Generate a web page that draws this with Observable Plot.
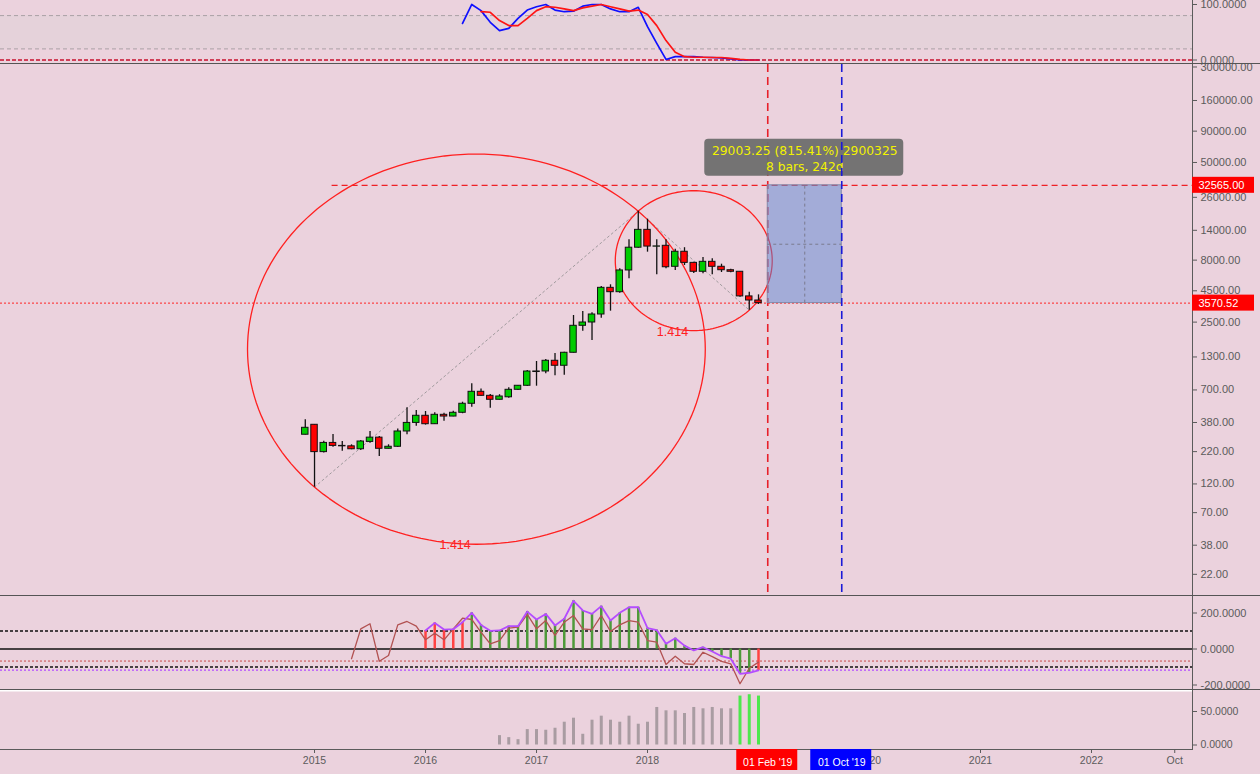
<!DOCTYPE html>
<html>
<head>
<meta charset="utf-8">
<script src="https://cdn.jsdelivr.net/npm/d3@7"></script>
<script src="https://cdn.jsdelivr.net/npm/@observablehq/plot@0.6"></script>
<style>
  html, body { margin: 0; padding: 0; background: #ebd2dd; overflow: hidden; }
  #chart { width: 1260px; height: 774px; position: relative; }
  .sep { border-top: 1px solid #555; }
  #chart svg { display: block; }
</style>
</head>
<body>
<div id="chart">
  <div id="p1"></div>
  <div id="p2" class="sep"></div>
  <div id="p3" class="sep"></div>
  <div id="p4" class="sep"></div>
</div>
<script>
// ---------------- DATA ----------------
const candleMonths = ["2014-12",
  "2015-01","2015-02","2015-03","2015-04","2015-05","2015-06","2015-07","2015-08","2015-09","2015-10","2015-11","2015-12",
  "2016-01","2016-02","2016-03","2016-04","2016-05","2016-06","2016-07","2016-08","2016-09","2016-10","2016-11","2016-12",
  "2017-01","2017-02","2017-03","2017-04","2017-05","2017-06","2017-07","2017-08","2017-09","2017-10","2017-11","2017-12",
  "2018-01","2018-02","2018-03","2018-04","2018-05","2018-06","2018-07","2018-08","2018-09","2018-10","2018-11","2018-12",
  "2019-01"];
const candleOpen  = [302,364,218,259,245,243,230,264,286,232,241,321,377,431,368,439,425,456,540,676,627,582,610,702,757,980,990,1210,1102,1406,2333,2482,2884,4757,4383,6590,10100,14120,10300,10470,7060,9360,7600,6430,7750,7060,6620,6430,4050,3750];
const candleHigh  = [400,364,267,303,266,250,271,321,292,250,337,501,475,467,456,453,470,556,785,714,643,640,729,760,1008,1194,1240,1387,1420,2830,3048,2979,4873,5035,6800,11720,20040,17250,11720,11720,9820,10100,7700,8400,8200,7410,6750,6430,4380,4170];
const candleLow   = [300,113,214,239,222,228,225,258,201,231,238,302,355,362,366,389,423,448,507,622,497,580,600,692,747,751,948,912,922,1400,2110,1770,2690,3070,4300,5630,10000,9290,6080,6790,6590,7230,6230,6190,6080,6340,6310,3990,3130,3480];
const candleClose = [344,218,259,245,243,230,266,286,232,241,321,377,431,368,439,425,456,540,676,627,582,619,702,757,989,990,1210,1102,1406,2333,2482,2884,4757,4383,6590,10100,14120,10320,10350,7000,9360,7600,6430,7750,7060,6620,6430,4050,3750,3570.52];

// Stochastic RSI (top pane)
const stochKFrom = "2016-05";
const stochK = [66,100,89,68,53,57,75,90,96,100,90,87,88,97,100,100,92,87,87,95,60,30,1,6,6,6,5,4.5,3.6,2,0,0,0];
const stochDFrom = "2016-07";
const stochD = [87,86,71,62,62,75,89,96,95,92,89,94,97,100,96,92,88,90,82,62,35,14,6,5,5,4.5,4.5,3,1,0,0];
const stochBands = [20, 80];

// CCI pane
const cciFrom = "2015-05";
const cciSlow = [-54,112,140,-68,-36,134,153,127,51,88,51,112,171,164,93,29,47,116,121,192,112,158,75,149,186,112,107,186,97,134,158,149,47,38,-86,-40,-82,-86,-18,-42,-69,-82,-193,-107,-73];
const cciFastFrom = "2016-01";
const cciFast = [103,145,108,110,149,201,134,101,103,127,127,208,164,195,131,168,268,214,195,238,158,201,232,232,116,105,29,60,19,-8,10,-14,-40,-54,-138,-132,-119];
const cciSide = ["bear","bear","bear","bear","bear",
  "bull","bull","bull","bull","bull","bull","bull","bull","bull","bull","bull","bull","bull","bull","bull","bull",
  "bull","bull","bull","bull","bull","bull","bull","bull","bull","bull","bull","bull","bull","bull","bull","bear"];
const cciLevels = [100, -100];
const cciSignalLevel = -67;
const cciFloorLevel = -117;

// Bottom histogram pane
const volFrom = "2016-09";
const volValues = [14,11,8,23,23,22,25,34,40,16,37,43,37,34,43,31,34,56,51,51,47,56,54,56,54,54,73,75,73];
const volKind = ["base","base","base","base","base","base","base","base","base","base","base","base","base","base","base","base","base","base","base","base","base","base","base","base","base","base","signal","signal","signal"];

// Axis ticks
const priceTicks = [300000,160000,90000,50000,26000,14000,8000,4500,2500,1300,700,380,220,120,70,38,22];
const xTickMonths = ["2015-01","2016-01","2017-01","2018-01","2019-01","2020-01","2021-01","2022-01","2022-10"];
const xTickLabels = ["2015","2016","2017","2018","2019","2020","2021","2022","Oct"];

// Drawings
const fibLevel = 1.414;
const fibs = [
  {from: ["2015-01","low"], to: ["2017-12","high"]},
  {from: ["2017-12","high"], to: ["2018-12","low"]}
];
const resistance = 32565.00;
const resistanceFromIndex = 1.9;
const measureFrom = "2019-02", measureTo = "2019-10";
const measureLow = 3570.52, measureHigh = 32565.00;
const measureText = ["29003.25 (815.41%) 2900325", "8 bars, 242d"];
const dateTags = [{month: "2019-02", text: "01 Feb '19"}, {month: "2019-10", text: "01 Oct '19"}];
const visibleMonths = [-33.95, 94.92];   // visible bar window, months since Jan 2015
const visiblePrice = [14.785, 314400];   // visible price window (log axis)

// ---------------- BUILD ----------------
const L = Math.log10;
const mIndex = s => { const [y, mo] = s.split("-").map(Number); return (y - 2015) * 12 + (mo - 1); };
const candles = candleMonths.map((s, i) => ({m: mIndex(s), open: candleOpen[i], high: candleHigh[i], low: candleLow[i], close: candleClose[i]}));
const series = (from, vals, extra) => vals.map((v, i) => ({m: mIndex(from) + i, v, k: extra ? extra[i] : null}));
const K = series(stochKFrom, stochK), D = series(stochDFrom, stochD);
const cciS = series(cciFrom, cciSlow), cciF = series(cciFastFrom, cciFast, cciSide);
const vol = series(volFrom, volValues, volKind);
const [X0, X1] = visibleMonths;
const lastClose = candleClose[candleClose.length - 1];

const getPt = ([month, field]) => { const c = candles.find(d => d.m === mIndex(month)); return {m: c.m, lp: L(c[field])}; };
const ellipses = [], diagonals = [], fibLabels = [];
fibs.forEach((f, id) => {
  const a = getPt(f.from), b = getPt(f.to);
  const cm = (a.m + b.m) / 2, cl = (a.lp + b.lp) / 2;
  const rx = fibLevel * Math.abs(b.m - a.m) / 2, ry = fibLevel * Math.abs(b.lp - a.lp) / 2;
  d3.range(0, 361, 2).forEach(t => {
    const r = t * Math.PI / 180;
    ellipses.push({id, m: cm + rx * Math.cos(r), lp: cl + ry * Math.sin(r)});
  });
  diagonals.push({id, m: a.m, lp: a.lp}, {id, m: b.m, lp: b.lp});
  fibLabels.push({m: cm - 2.3, lp: cl - ry, t: fibLevel.toFixed(3)});
});

const baseStyle = {background: "transparent", fontFamily: "'Liberation Sans', Arial, sans-serif", fontSize: "11px", color: "#5b5b5b", overflow: "hidden"};
const base = {width: 1260, marginLeft: 0, marginRight: 68, marginTop: 0, marginBottom: 0};
const xs = {type: "linear", domain: visibleMonths, axis: null};
const yAxis = {axis: "right", tickSize: 4, tickPadding: 4, line: true, label: null};

// Pane 1: Stoch RSI
const p1 = Plot.plot({...base, height: 63, style: baseStyle, x: xs,
  y: {...yAxis, domain: [-6.3, 107.2], ticks: [0, 100], tickFormat: d => d.toFixed(4)},
  marks: [
    Plot.rect([0], {x1: X0, x2: X1, y1: stochBands[0], y2: stochBands[1], fill: "#e5d2da"}),
    Plot.ruleY(stochBands, {x1: X0, x2: X1, stroke: "#a9a1a5", strokeDasharray: "4,3"}),
    Plot.ruleY([0], {x1: X0, x2: X1, stroke: "#c8102e", strokeWidth: 1.6, strokeDasharray: "4,2"}),
    Plot.line(K, {x: "m", y: "v", stroke: "#1010ff", strokeWidth: 1.7}),
    Plot.line(D, {x: "m", y: "v", stroke: "#ff1414", strokeWidth: 1.7})
  ]});

// Pane 2: price (log axis drawn as a linear scale of log10 price)
const mS = mIndex(measureFrom), mE = mIndex(measureTo), mMid = (mS + mE) / 2;
const lMid = (L(measureLow) + L(measureHigh)) / 2;
const candleBody = {x1: d => d.m - 0.35, x2: d => d.m + 0.35, y1: d => L(d.open), y2: d => L(d.close), stroke: "#111", strokeWidth: 1};
const p2 = Plot.plot({...base, height: 531, style: baseStyle, x: xs,
  y: {...yAxis, type: "linear", domain: visiblePrice.map(L), ticks: priceTicks.map(L), tickFormat: d => Math.pow(10, d).toFixed(2)},
  marks: [
    Plot.ruleY([L(lastClose)], {x1: X0, x2: X1, stroke: "#ff2222", strokeWidth: 1, strokeDasharray: "2,2"}),
    Plot.ruleY([L(resistance)], {x1: resistanceFromIndex, x2: X1, stroke: "#ee2026", strokeWidth: 1.3, strokeDasharray: "6,4"}),
    Plot.line(diagonals, {x: "m", y: "lp", z: "id", stroke: "#a09a9d", strokeWidth: 1, strokeDasharray: "2,3"}),
    Plot.line(ellipses, {x: "m", y: "lp", z: "id", stroke: "#ff2020", strokeWidth: 1.3}),
    Plot.ruleX(candles, {x: "m", y1: d => L(d.low), y2: d => L(d.high), stroke: "#111", strokeWidth: 1.3}),
    Plot.rect(candles, {...candleBody, filter: d => d.close >= d.open, fill: "#00cc00"}),
    Plot.rect(candles, {...candleBody, filter: d => d.close < d.open, fill: "#ff0000"}),
    Plot.text(fibLabels, {x: "m", y: "lp", text: "t", fill: "#ff2020", fontSize: 12.5, dy: 1}),
    Plot.ruleX([mS], {stroke: "#e8202a", strokeWidth: 1.6, strokeDasharray: "8,5"}),
    Plot.rect([0], {x1: mS, x2: mE, y1: L(measureLow), y2: L(measureHigh), fill: "#5c85d3", fillOpacity: 0.5, stroke: "#8088a8", strokeWidth: 1}),
    Plot.ruleX([mMid], {y1: L(measureLow), y2: L(measureHigh), stroke: "#7a7a8e", strokeDasharray: "3,3"}),
    Plot.ruleY([lMid], {x1: mS, x2: mE, stroke: "#7a7a8e", strokeDasharray: "3,3"}),
    Plot.rect([0], {x1: mS, x2: mE, y1: L(measureHigh), y2: L(measureHigh), insetLeft: -63, insetRight: -62, insetTop: -46, insetBottom: 9, rx: 4, fill: "#6e6e6e", fillOpacity: 0.96}),
    Plot.text([measureText[0]], {x: mMid, y: L(measureHigh), text: d => d, dy: -34, fill: "#f2f200", fontSize: 12.3, fontFamily: "'DejaVu Sans', sans-serif"}),
    Plot.text([measureText[1]], {x: mMid, y: L(measureHigh), text: d => d, dy: -18, fill: "#f2f200", fontSize: 12.3, fontFamily: "'DejaVu Sans', sans-serif"}),
    Plot.ruleX([mE], {stroke: "#1a1ad8", strokeWidth: 1.6, strokeDasharray: "8,5"}),
    Plot.rect([resistance, lastClose], {x1: X1, x2: X1, y1: d => L(d), y2: d => L(d), insetRight: -62, insetTop: -8, insetBottom: -8, fill: "#ff0000"}),
    Plot.text([resistance, lastClose], {x: X1, y: d => L(d), text: d => d.toFixed(2), textAnchor: "start", dx: 6, fill: "white", fontSize: 11})
  ]});

// Pane 3: CCI
const p3 = Plot.plot({...base, height: 93, style: baseStyle, x: xs,
  y: {...yAxis, domain: [-225, 291.7], ticks: [200, 0, -200], tickFormat: d => d.toFixed(4)},
  marks: [
    Plot.ruleY([cciSignalLevel], {x1: X0, x2: X1, stroke: "#c84a4a", strokeWidth: 1, strokeDasharray: "2,2"}),
    Plot.ruleY([cciFloorLevel], {x1: X0, x2: X1, stroke: "#b44cff", strokeWidth: 1.2, strokeDasharray: "2,2"}),
    Plot.ruleY(cciLevels, {x1: X0, x2: X1, stroke: "#111", strokeWidth: 1.6, strokeDasharray: "3,2"}),
    Plot.ruleY([0], {x1: X0, x2: X1, stroke: "#111", strokeWidth: 1.5}),
    Plot.ruleX(cciF, {filter: d => d.k === "bull", x: "m", y1: 0, y2: "v", stroke: "#4e9a3a", strokeWidth: 2.5}),
    Plot.ruleX(cciF, {filter: d => d.k === "bear", x: "m", y1: 0, y2: "v", stroke: "#ff4242", strokeWidth: 2.5}),
    Plot.line(cciS, {x: "m", y: "v", stroke: "#b25252", strokeWidth: 1.3}),
    Plot.line(cciF, {x: "m", y: "v", stroke: "#b44cff", strokeWidth: 1.8})
  ]});

// Pane 4: histogram + time axis
const xTickIdx = xTickMonths.map(mIndex);
const p4 = Plot.plot({...base, height: 84, marginBottom: 25, style: {...baseStyle, fontSize: "10.5px"},
  x: {type: "linear", domain: visibleMonths, axis: "bottom", ticks: xTickIdx,
      tickFormat: d => xTickLabels[xTickIdx.indexOf(d)], tickSize: 4, tickPadding: 3, line: true, label: null},
  y: {...yAxis, domain: [-6.7, 81.3], ticks: [50, 0], tickFormat: d => d.toFixed(4)},
  marks: [
    Plot.ruleY([81.3], {x1: X0, x2: X1, stroke: "#ffffff", strokeWidth: 2}),
    Plot.ruleX(vol, {filter: d => d.k === "base", x: "m", y1: 0, y2: "v", stroke: "#a99ca2", strokeWidth: 3}),
    Plot.ruleX(vol, {filter: d => d.k === "signal", x: "m", y1: 0, y2: "v", stroke: "#4de84d", strokeWidth: 3}),
    Plot.rect([dateTags[0]], {x1: d => mIndex(d.month), x2: d => mIndex(d.month), y1: -6.7, y2: -6.7, insetLeft: -31, insetRight: -30, insetTop: 0, insetBottom: -21, fill: "#ff0000"}),
    Plot.rect([dateTags[1]], {x1: d => mIndex(d.month), x2: d => mIndex(d.month), y1: -6.7, y2: -6.7, insetLeft: -31, insetRight: -30, insetTop: 0, insetBottom: -21, fill: "#0000ff"}),
    Plot.text(dateTags, {x: d => mIndex(d.month), y: -6.7, text: "text", dy: 13, fill: "white", fontSize: 10.5})
  ]});

document.getElementById("p1").appendChild(p1);
document.getElementById("p2").appendChild(p2);
document.getElementById("p3").appendChild(p3);
document.getElementById("p4").appendChild(p4);
</script>
</body>
</html>
